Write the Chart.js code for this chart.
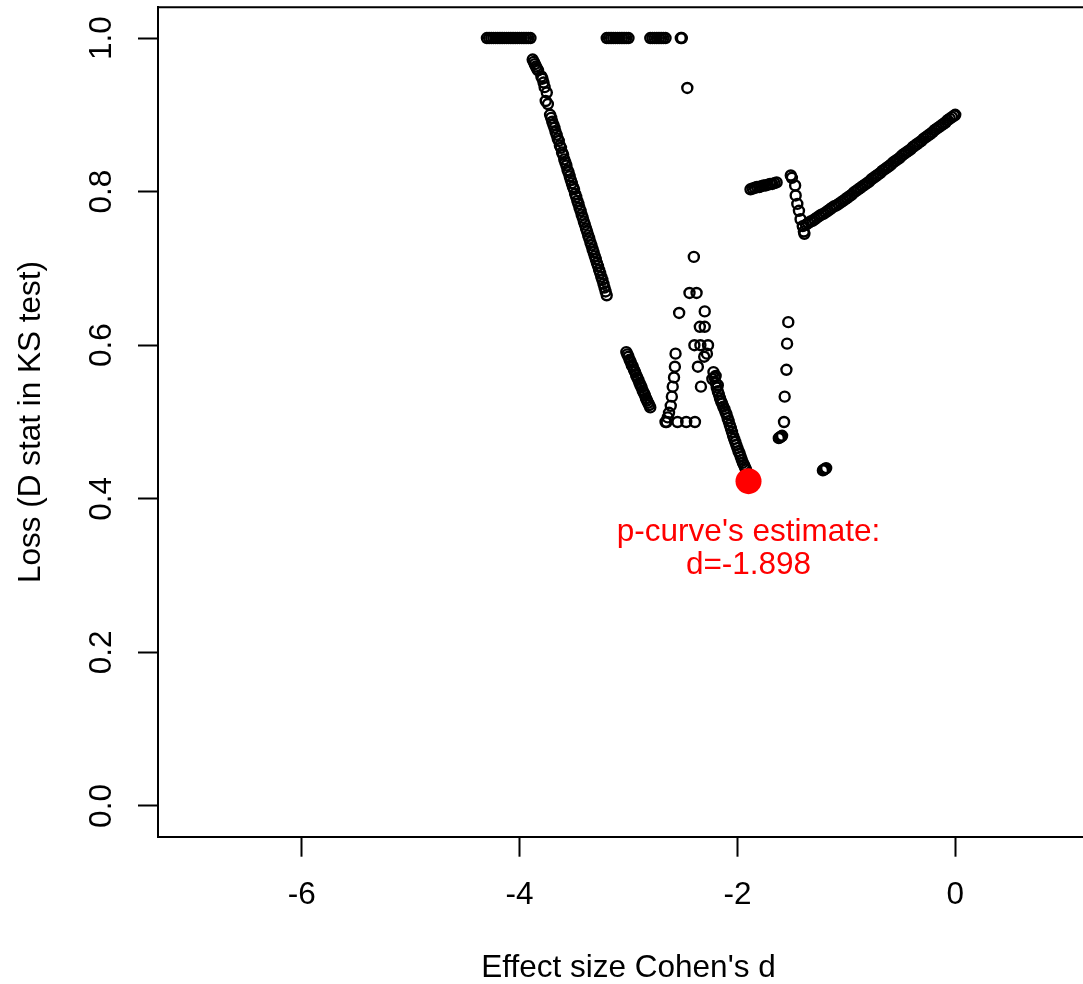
<!DOCTYPE html>
<html>
<head>
<meta charset="utf-8">
<script src="https://cdn.jsdelivr.net/npm/chart.js@4.4.1/dist/chart.umd.min.js"></script>
<style>
  html, body { margin: 0; padding: 0; background: #fff; overflow: hidden; }
  /* R's plot region runs a little past the right edge of the picture */
  #wrap { position: relative; width: 1099px; height: 984px; }
</style>
</head>
<body>
<div id="wrap"><canvas id="lossChart"></canvas></div>
<script>
// KS loss (D stat) for each candidate effect size
// each list is one visible run of points, as [d, loss]
const plateauLeft = [
  [-4.30, 1.000], [-4.28, 1.000], [-4.26, 1.000], [-4.24, 1.000], [-4.22, 1.000], [-4.20, 1.000], [-4.18, 1.000],
  [-4.16, 1.000], [-4.14, 1.000], [-4.12, 1.000], [-4.10, 1.000], [-4.08, 1.000], [-4.06, 1.000], [-4.04, 1.000],
  [-4.02, 1.000], [-4.00, 1.000], [-3.98, 1.000], [-3.96, 1.000], [-3.94, 1.000], [-3.92, 1.000], [-3.90, 1.000]
];

const steepDrop = [
  [-3.88, 0.972], [-3.87, 0.969], [-3.86, 0.966], [-3.85, 0.963], [-3.84, 0.960], [-3.83, 0.958],
  [-3.80, 0.950], [-3.79, 0.947], [-3.78, 0.942], [-3.77, 0.936], [-3.75, 0.929], [-3.76, 0.918], [-3.74, 0.914],
  [-3.72, 0.900], [-3.71, 0.896], [-3.70, 0.891], [-3.69, 0.887], [-3.68, 0.883], [-3.67, 0.878], [-3.66, 0.874],
  [-3.65, 0.869], [-3.64, 0.866], [-3.63, 0.860], [-3.62, 0.857], [-3.61, 0.851], [-3.60, 0.848], [-3.59, 0.842],
  [-3.58, 0.838], [-3.57, 0.834], [-3.56, 0.828], [-3.55, 0.825], [-3.54, 0.820], [-3.53, 0.815], [-3.52, 0.811],
  [-3.51, 0.806], [-3.50, 0.803], [-3.49, 0.797], [-3.48, 0.793], [-3.47, 0.788], [-3.46, 0.784], [-3.45, 0.779],
  [-3.44, 0.775], [-3.43, 0.770], [-3.42, 0.766], [-3.41, 0.761], [-3.40, 0.757], [-3.39, 0.752], [-3.38, 0.748],
  [-3.37, 0.743], [-3.36, 0.739], [-3.35, 0.734], [-3.34, 0.730], [-3.33, 0.725], [-3.32, 0.721], [-3.31, 0.716],
  [-3.30, 0.712], [-3.29, 0.707], [-3.28, 0.703], [-3.27, 0.698], [-3.26, 0.694], [-3.25, 0.689], [-3.24, 0.685],
  [-3.23, 0.680], [-3.22, 0.675], [-3.21, 0.670], [-3.20, 0.665]
];

const plateauUpper = [
  [-3.20, 1.000], [-3.18, 1.000], [-3.16, 1.000], [-3.14, 1.000], [-3.12, 1.000], [-3.10, 1.000],
  [-3.08, 1.000], [-3.06, 1.000], [-3.04, 1.000], [-3.02, 1.000], [-3.00, 1.000],
  [-2.80, 1.000], [-2.78, 1.000], [-2.76, 1.000], [-2.74, 1.000], [-2.72, 1.000], [-2.70, 1.000],
  [-2.68, 1.000], [-2.66, 1.000],
  [-2.52, 1.000], [-2.51, 1.000]
];

const kinkDrop = [
  [-3.02, 0.591], [-3.01, 0.588], [-3.00, 0.585], [-2.99, 0.581], [-2.98, 0.578], [-2.97, 0.574],
  [-2.96, 0.572], [-2.95, 0.568], [-2.94, 0.565], [-2.93, 0.561], [-2.92, 0.558], [-2.91, 0.555],
  [-2.90, 0.551], [-2.89, 0.548], [-2.88, 0.545], [-2.87, 0.541], [-2.86, 0.538], [-2.85, 0.535],
  [-2.84, 0.531], [-2.83, 0.528], [-2.82, 0.525], [-2.81, 0.522], [-2.80, 0.519]
];

const cornerL = [
  [-2.568, 0.589], [-2.574, 0.572], [-2.582, 0.558], [-2.594, 0.546], [-2.602, 0.533], [-2.612, 0.521],
  [-2.628, 0.512], [-2.640, 0.506], [-2.650, 0.500], [-2.660, 0.500],
  [-2.550, 0.500], [-2.470, 0.500], [-2.390, 0.500]
];

const midScatter = [
  [-2.400, 0.715], [-2.440, 0.668], [-2.375, 0.668], [-2.535, 0.642], [-2.300, 0.644],
  [-2.345, 0.624], [-2.300, 0.624], [-2.395, 0.600], [-2.340, 0.600], [-2.270, 0.600],
  [-2.305, 0.585], [-2.280, 0.589], [-2.363, 0.572], [-2.335, 0.546]
];

const valleyBand = [
  [-2.23, 0.556], [-2.20, 0.560], [-2.18, 0.548],
  [-2.22, 0.565], [-2.21, 0.558], [-2.20, 0.551], [-2.19, 0.545], [-2.18, 0.540], [-2.17, 0.536],
  [-2.16, 0.531], [-2.15, 0.527], [-2.14, 0.524], [-2.13, 0.520], [-2.12, 0.517], [-2.11, 0.513],
  [-2.10, 0.510], [-2.09, 0.505], [-2.08, 0.501], [-2.07, 0.496], [-2.06, 0.492], [-2.05, 0.487],
  [-2.04, 0.482], [-2.03, 0.478], [-2.02, 0.474], [-2.01, 0.470], [-2.00, 0.466], [-1.99, 0.462],
  [-1.98, 0.459], [-1.97, 0.455], [-1.96, 0.451], [-1.95, 0.447], [-1.94, 0.444], [-1.93, 0.441],
  [-1.92, 0.438]
];

const shelf = [
  [-1.88, 0.803], [-1.86, 0.804], [-1.84, 0.805], [-1.82, 0.806], [-1.80, 0.806], [-1.78, 0.807],
  [-1.76, 0.808], [-1.74, 0.808], [-1.72, 0.809], [-1.70, 0.810], [-1.68, 0.810], [-1.66, 0.811],
  [-1.64, 0.812]
];

const hookDrop = [
  [-1.510, 0.821], [-1.500, 0.818], [-1.470, 0.808], [-1.465, 0.795], [-1.450, 0.784],
  [-1.435, 0.775], [-1.420, 0.764], [-1.400, 0.755], [-1.390, 0.748], [-1.385, 0.745]
];

const rightRise = [
  [-1.37, 0.757], [-1.35, 0.759], [-1.33, 0.761], [-1.31, 0.762], [-1.29, 0.764], [-1.27, 0.766],
  [-1.25, 0.768], [-1.23, 0.770], [-1.21, 0.771], [-1.19, 0.773], [-1.17, 0.775], [-1.15, 0.777],
  [-1.13, 0.779], [-1.11, 0.781], [-1.09, 0.782], [-1.07, 0.784], [-1.05, 0.786], [-1.03, 0.788],
  [-1.01, 0.790], [-0.99, 0.792], [-0.97, 0.794], [-0.95, 0.796], [-0.93, 0.799], [-0.91, 0.801],
  [-0.89, 0.803], [-0.87, 0.805], [-0.85, 0.807], [-0.83, 0.809], [-0.81, 0.811], [-0.79, 0.813],
  [-0.77, 0.816], [-0.75, 0.818], [-0.73, 0.820], [-0.71, 0.822], [-0.69, 0.824], [-0.67, 0.827],
  [-0.65, 0.829], [-0.63, 0.831], [-0.61, 0.833], [-0.59, 0.835], [-0.57, 0.838], [-0.55, 0.840],
  [-0.53, 0.842], [-0.51, 0.844], [-0.49, 0.847], [-0.47, 0.849], [-0.45, 0.851], [-0.43, 0.853],
  [-0.41, 0.855], [-0.39, 0.858], [-0.37, 0.860], [-0.35, 0.862], [-0.33, 0.864], [-0.31, 0.866],
  [-0.29, 0.869], [-0.27, 0.871], [-0.25, 0.873], [-0.23, 0.875], [-0.21, 0.877], [-0.19, 0.880],
  [-0.17, 0.882], [-0.15, 0.884], [-0.13, 0.886], [-0.11, 0.888], [-0.09, 0.890], [-0.07, 0.893],
  [-0.05, 0.895], [-0.03, 0.897], [-0.01, 0.899], [0.00, 0.900]
];

const sparseLow = [
  [-2.460, 0.935],
  [-1.533, 0.630], [-1.544, 0.602], [-1.550, 0.568], [-1.566, 0.533], [-1.572, 0.500],
  [-1.620, 0.479], [-1.610, 0.480], [-1.600, 0.481], [-1.590, 0.482],
  [-1.215, 0.437], [-1.205, 0.438], [-1.195, 0.439], [-1.185, 0.440]
];

const estimateD = -1.898;
const estimateLoss = 0.423;

const xTicks = [-6, -4, -2, 0];
const yTicks = [0, 0.2, 0.4, 0.6, 0.8, 1.0];

const allPoints = [].concat(plateauLeft, steepDrop, plateauUpper, kinkDrop, cornerL,
  midScatter, valleyBand, shelf, hookDrop, rightRise, sparseLow)
  .map(p => ({ x: p[0], y: p[1] }));

const fontFamily = "'Liberation Sans', Arial, Helvetica, sans-serif";
const fontSize = 31.5;
Chart.defaults.font.family = fontFamily;
Chart.defaults.font.size = fontSize;
Chart.defaults.color = '#000';

// R draws a full box; the axes give left and bottom, this adds the top
const frameTop = {
  id: 'frameTop',
  afterDraw(chart) {
    const { ctx, chartArea: a } = chart;
    ctx.save();
    ctx.strokeStyle = '#000';
    ctx.lineWidth = 2;
    ctx.beginPath();
    ctx.moveTo(a.left - 1, a.top);
    ctx.lineTo(a.right, a.top);
    ctx.stroke();
    ctx.restore();
  }
};

const estimateLabel = {
  id: 'estimateLabel',
  afterDatasetsDraw(chart) {
    const { ctx, scales } = chart;
    const px = scales.x.getPixelForValue(estimateD);
    const py = scales.y.getPixelForValue(estimateLoss);
    ctx.save();
    ctx.fillStyle = '#ff0000';
    ctx.font = fontSize + 'px ' + fontFamily;
    ctx.textAlign = 'center';
    ctx.textBaseline = 'alphabetic';
    ctx.fillText("p-curve's estimate:", px, py + 60);
    ctx.fillText('d=' + estimateD.toFixed(3), px, py + 93);
    ctx.restore();
  }
};

// fixed axis sizes so the plot box sits where R put it
function pinSize(prop, size) {
  return s => {
    s[prop] = size;
    s.paddingTop = 0;
    s.paddingBottom = 0;
    s.paddingLeft = 0;
    s.paddingRight = 0;
  };
}

const tickGrid = { drawOnChartArea: false, drawTicks: true, tickLength: 20, tickWidth: 2, tickColor: '#000' };
const axisBorder = { display: true, color: '#000', width: 2 };

new Chart(document.getElementById('lossChart'), {
  type: 'scatter',
  data: {
    datasets: [
      {
        label: 'estimate',
        data: [{ x: estimateD, y: estimateLoss }],
        order: 0,
        pointRadius: 13,
        pointBorderWidth: 0,
        pointBackgroundColor: '#ff0000',
        pointBorderColor: '#ff0000'
      },
      {
        label: 'loss',
        data: allPoints,
        order: 1,
        pointRadius: 5,
        pointBorderWidth: 2.4,
        pointBorderColor: '#000',
        pointBackgroundColor: 'rgba(0,0,0,0)'
      }
    ]
  },
  options: {
    responsive: true,
    maintainAspectRatio: false,
    animation: false,
    events: [],
    layout: { autoPadding: false, padding: { top: 7.3, right: 0, bottom: 0, left: 0 } },
    plugins: { legend: { display: false }, tooltip: { enabled: false } },
    scales: {
      x: {
        type: 'linear',
        min: -7.32,
        max: 1.32,
        afterBuildTicks: s => { s.ticks = xTicks.map(v => ({ value: v })); },
        afterFit: pinSize('height', 147.3),
        grid: tickGrid,
        border: axisBorder,
        ticks: { padding: 20, maxRotation: 0, autoSkip: false },
        title: {
          display: true,
          text: "Effect size Cohen's d",
          font: { size: fontSize, lineHeight: 1 },
          padding: { top: 0, bottom: 0 }
        }
      },
      y: {
        type: 'linear',
        min: -0.04,
        max: 1.04,
        afterBuildTicks: s => { s.ticks = yTicks.map(v => ({ value: v })); },
        afterFit: pinSize('width', 158),
        grid: tickGrid,
        border: axisBorder,
        ticks: {
          padding: 14,
          minRotation: 90,
          maxRotation: 90,
          crossAlign: 'center',
          autoSkip: false,
          callback: v => v.toFixed(1)
        },
        title: {
          display: true,
          text: 'Loss (D stat in KS test)',
          font: { size: fontSize, lineHeight: 1 },
          padding: { top: 16, bottom: 0 }
        }
      }
    }
  },
  plugins: [frameTop, estimateLabel]
});
</script>
</body>
</html>
